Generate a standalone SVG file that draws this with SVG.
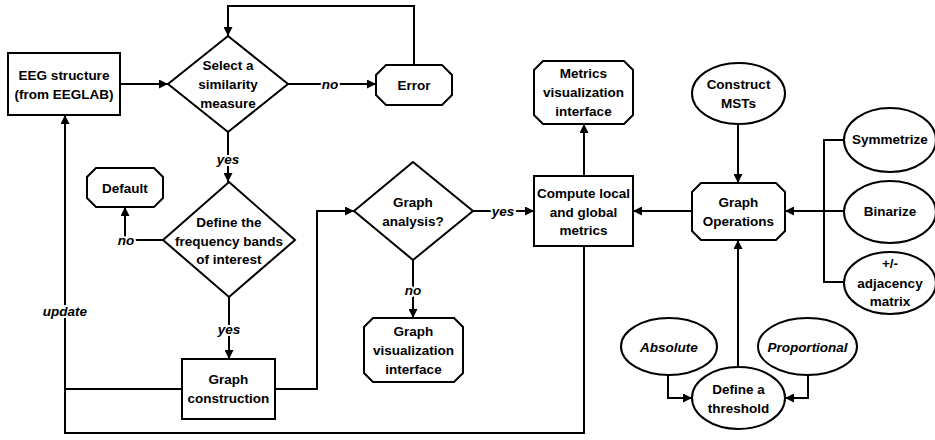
<svg xmlns="http://www.w3.org/2000/svg" width="935" height="440" viewBox="0 0 935 440">
<style>
.s{fill:#fff;stroke:#000;stroke-width:2}
.t{font-family:"Liberation Sans",Arial,sans-serif;font-weight:bold;font-size:13.5px;fill:#000;text-anchor:middle}
.i{font-style:italic}
.l{font-family:"Liberation Sans",Arial,sans-serif;font-weight:bold;font-style:italic;font-size:13.5px;fill:#000;text-anchor:middle;stroke:#fff;stroke-width:4;paint-order:stroke}
.c{fill:none;stroke:#000;stroke-width:2}
</style>
<defs>
<marker id="a" viewBox="0 0 10 10" refX="10" refY="5" markerWidth="9" markerHeight="9" markerUnits="userSpaceOnUse" orient="auto"><path d="M0,0 L10,5 L0,10 z" fill="#000"/></marker>
</defs>
<rect width="935" height="440" fill="#fff"/>
<g id="connectors">
<path class="c" d="M120,84 H168" marker-end="url(#a)"/>
<path class="c" d="M288,84 H376" marker-end="url(#a)"/>
<path class="c" d="M414,65 V6 H228 V36" marker-end="url(#a)"/>
<path class="c" d="M228,132 V182" marker-end="url(#a)"/>
<path class="c" d="M163,240 H125 V207" marker-end="url(#a)"/>
<path class="c" d="M229,297 V359" marker-end="url(#a)"/>
<path class="c" d="M275,389 H317 V211 H354" marker-end="url(#a)"/>
<path class="c" d="M182,389 H65"/>
<path class="c" d="M584,246 V433 H65 V115" marker-end="url(#a)"/>
<path class="c" d="M413,260 V318" marker-end="url(#a)"/>
<path class="c" d="M473,211 H534" marker-end="url(#a)"/>
<path class="c" d="M584,176 V124" marker-end="url(#a)"/>
<path class="c" d="M692,211 H633" marker-end="url(#a)"/>
<path class="c" d="M738,124 V183" marker-end="url(#a)"/>
<path class="c" d="M844,211 H785" marker-end="url(#a)"/>
<path class="c" d="M844,140 H824 V282 H844"/>
<path class="c" d="M738,367 V240" marker-end="url(#a)"/>
<path class="c" d="M668,374 V398 H692" marker-end="url(#a)"/>
<path class="c" d="M808,374 V398 H785" marker-end="url(#a)"/>
<text class="l" x="330" y="89">no</text>
<text class="l" x="228" y="164">yes</text>
<text class="l" x="126" y="245">no</text>
<text class="l" x="229" y="334">yes</text>
<text class="l" x="65" y="316">update</text>
<text class="l" x="413" y="295">no</text>
<text class="l" x="503" y="216">yes</text>
</g>
<g id="eeg"><rect class="s" x="8" y="53" width="112" height="62"/><text class="t" x="64" y="80">EEG structure</text><text class="t" x="64" y="99">(from EEGLAB)</text></g>
<g id="select"><polygon class="s" points="228,36 288,84 228,132 168,84"/><text class="t" x="228" y="70">Select a</text><text class="t" x="228" y="89">similarity</text><text class="t" x="228" y="108">measure</text></g>
<g id="error"><polygon class="s" points="386,65 442,65 452,75 452,95 442,105 386,105 376,95 376,75"/><text class="t" x="414" y="90">Error</text></g>
<g id="default"><polygon class="s" points="96,168 154,168 163,177 163,198 154,207 96,207 87,198 87,177"/><text class="t" x="125" y="193">Default</text></g>
<g id="define"><polygon class="s" points="229,182 295,240 229,297 163,240"/><text class="t" x="229" y="227">Define the</text><text class="t" x="229" y="246">frequency bands</text><text class="t" x="229" y="264">of interest</text></g>
<g id="construction"><rect class="s" x="182" y="359" width="93" height="60"/><text class="t" x="228.5" y="384">Graph</text><text class="t" x="228.5" y="403">construction</text></g>
<g id="analysis"><polygon class="s" points="413,162 473,211 413,260 354,211"/><text class="t" x="413" y="207">Graph</text><text class="t" x="413" y="226">analysis?</text></g>
<g id="graphvis"><polygon class="s" points="373,318 454,318 463,327 463,373 454,382 373,382 364,373 364,327"/><text class="t" x="413.5" y="336">Graph</text><text class="t" x="413.5" y="355">visualization</text><text class="t" x="413.5" y="374">interface</text></g>
<g id="compute"><rect class="s" x="534" y="176" width="99" height="70"/><text class="t" x="583.5" y="198">Compute local</text><text class="t" x="583.5" y="217">and global</text><text class="t" x="583.5" y="235">metrics</text></g>
<g id="metricsvis"><polygon class="s" points="543,61 624,61 633,70 633,115 624,124 543,124 534,115 534,70"/><text class="t" x="583.5" y="78">Metrics</text><text class="t" x="583.5" y="97">visualization</text><text class="t" x="583.5" y="116">interface</text></g>
<g id="mst"><ellipse class="s" cx="738.5" cy="93.5" rx="46.5" ry="30.5"/><text class="t" x="738.5" y="89">Construct</text><text class="t" x="738.5" y="108">MSTs</text></g>
<g id="graphops"><polygon class="s" points="701,183 776,183 785,192 785,231 776,240 701,240 692,231 692,192"/><text class="t" x="738.5" y="207">Graph</text><text class="t" x="738.5" y="226">Operations</text></g>
<g id="symmetrize"><ellipse class="s" cx="890" cy="140" rx="46" ry="32"/><text class="t" x="890" y="144">Symmetrize</text></g>
<g id="binarize"><ellipse class="s" cx="890" cy="212" rx="46" ry="31"/><text class="t" x="890" y="216">Binarize</text></g>
<g id="adjacency"><ellipse class="s" cx="890" cy="283" rx="46" ry="31"/><text class="t" x="890" y="268">+/-</text><text class="t" x="890" y="288">adjacency</text><text class="t" x="890" y="306">matrix</text></g>
<g id="threshold"><ellipse class="s" cx="738.5" cy="398" rx="46.5" ry="31"/><text class="t" x="738.5" y="394">Define a</text><text class="t" x="738.5" y="413">threshold</text></g>
<g id="absolute"><ellipse class="s" cx="669" cy="346.5" rx="48" ry="28.5"/><text class="t i" x="669" y="352">Absolute</text></g>
<g id="proportional"><ellipse class="s" cx="807.5" cy="346.5" rx="49.5" ry="28.5"/><text class="t i" x="807.5" y="352">Proportional</text></g>
</svg>
